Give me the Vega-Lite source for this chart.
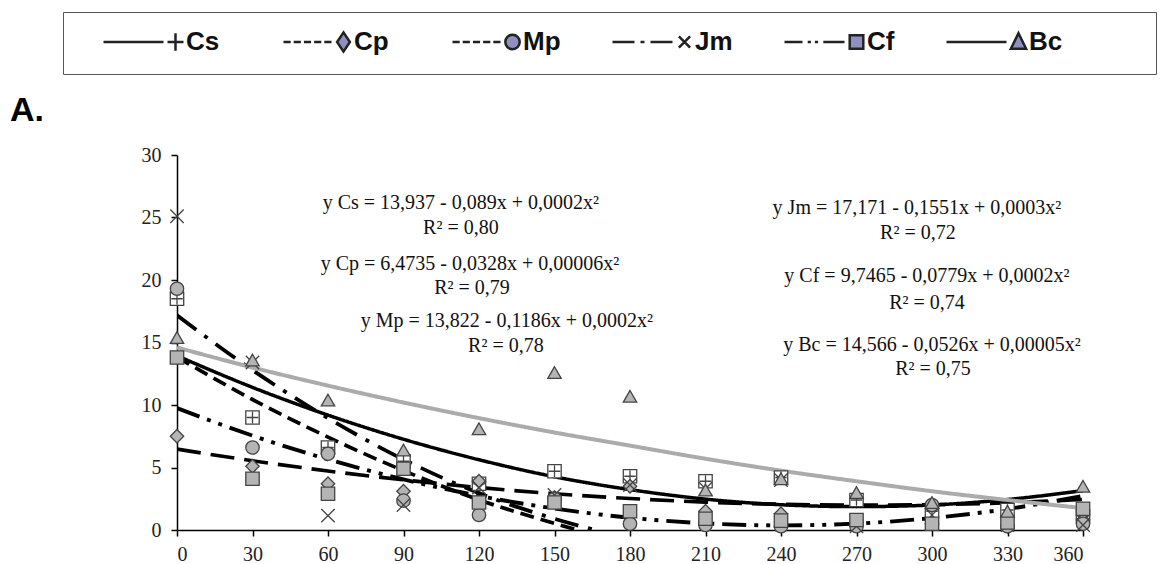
{
  "$schema": "https://vega.github.io/schema/vega-lite/v6.json",
  "width": 906,
  "height": 375,
  "autosize": {"type": "none"},
  "padding": {"left": 177, "top": 155, "right": 79, "bottom": 34},
  "background": "white",
  "title": {"text": "A.", "anchor": "start", "frame": "group", "font": "Liberation Sans", "fontSize": 34, "fontWeight": "bold", "color": "#000", "dx": -167, "dy": 146, "offset": 30},
  "config": {
    "view": {"stroke": null},
    "axis": {"grid": false, "domainColor": "#000", "domainWidth": 1.5, "tickColor": "#000", "tickWidth": 1.5, "tickSize": 6, "labelFont": "Liberation Serif", "labelFontSize": 20, "labelColor": "#222", "title": null}
  },
  "datasets": {
    "curves": [
      {"series": "Cs", "x": 0, "y": 13.94}, {"series": "Cs", "x": 30, "y": 11.41}, {"series": "Cs", "x": 60, "y": 9.19}, {"series": "Cs", "x": 90, "y": 7.26}, {"series": "Cs", "x": 120, "y": 5.62}, {"series": "Cs", "x": 150, "y": 4.26}, {"series": "Cs", "x": 180, "y": 3.23}, {"series": "Cs", "x": 210, "y": 2.47}, {"series": "Cs", "x": 240, "y": 2.02}, {"series": "Cs", "x": 270, "y": 1.87}, {"series": "Cs", "x": 300, "y": 2.0}, {"series": "Cs", "x": 330, "y": 2.44}, {"series": "Cs", "x": 360, "y": 3.15},
      {"series": "Cp", "x": 0, "y": 6.47}, {"series": "Cp", "x": 30, "y": 5.54}, {"series": "Cp", "x": 60, "y": 4.72}, {"series": "Cp", "x": 90, "y": 4.01}, {"series": "Cp", "x": 120, "y": 3.4}, {"series": "Cp", "x": 150, "y": 2.9}, {"series": "Cp", "x": 180, "y": 2.52}, {"series": "Cp", "x": 210, "y": 2.23}, {"series": "Cp", "x": 240, "y": 2.06}, {"series": "Cp", "x": 270, "y": 2.0}, {"series": "Cp", "x": 300, "y": 2.03}, {"series": "Cp", "x": 330, "y": 2.18}, {"series": "Cp", "x": 360, "y": 2.44},
      {"series": "Mp", "x": 0, "y": 13.82}, {"series": "Mp", "x": 30, "y": 10.44}, {"series": "Mp", "x": 60, "y": 7.43}, {"series": "Mp", "x": 90, "y": 4.75}, {"series": "Mp", "x": 120, "y": 2.41}, {"series": "Mp", "x": 150, "y": 0.53}, {"series": "Mp", "x": 159, "y": 0},
      {"series": "Jm", "x": 0, "y": 17.17}, {"series": "Jm", "x": 30, "y": 12.79}, {"series": "Jm", "x": 60, "y": 8.95}, {"series": "Jm", "x": 90, "y": 5.64}, {"series": "Jm", "x": 120, "y": 2.95}, {"series": "Jm", "x": 150, "y": 0.9}, {"series": "Jm", "x": 166, "y": 0},
      {"series": "Cf", "x": 0, "y": 9.75}, {"series": "Cf", "x": 30, "y": 7.55}, {"series": "Cf", "x": 60, "y": 5.65}, {"series": "Cf", "x": 90, "y": 4.05}, {"series": "Cf", "x": 120, "y": 2.73}, {"series": "Cf", "x": 150, "y": 1.72}, {"series": "Cf", "x": 180, "y": 0.98}, {"series": "Cf", "x": 210, "y": 0.53}, {"series": "Cf", "x": 240, "y": 0.37}, {"series": "Cf", "x": 270, "y": 0.51}, {"series": "Cf", "x": 300, "y": 0.96}, {"series": "Cf", "x": 330, "y": 1.68}, {"series": "Cf", "x": 360, "y": 2.73},
      {"series": "Bc", "x": 0, "y": 14.6}, {"series": "Bc", "x": 30, "y": 13.0}, {"series": "Bc", "x": 60, "y": 11.55}, {"series": "Bc", "x": 90, "y": 10.2}, {"series": "Bc", "x": 120, "y": 8.95}, {"series": "Bc", "x": 150, "y": 7.8}, {"series": "Bc", "x": 180, "y": 6.75}, {"series": "Bc", "x": 210, "y": 5.7}, {"series": "Bc", "x": 240, "y": 4.75}, {"series": "Bc", "x": 270, "y": 3.9}, {"series": "Bc", "x": 300, "y": 3.1}, {"series": "Bc", "x": 330, "y": 2.4}, {"series": "Bc", "x": 360, "y": 1.75}
    ],
    "points": [
      {"series": "Cs", "x": 0, "y": 18.5}, {"series": "Cs", "x": 30, "y": 9.0}, {"series": "Cs", "x": 60, "y": 6.6}, {"series": "Cs", "x": 90, "y": 5.5}, {"series": "Cs", "x": 120, "y": 3.7}, {"series": "Cs", "x": 150, "y": 4.7}, {"series": "Cs", "x": 180, "y": 4.3}, {"series": "Cs", "x": 210, "y": 3.9}, {"series": "Cs", "x": 240, "y": 4.2}, {"series": "Cs", "x": 270, "y": 2.4}, {"series": "Cs", "x": 300, "y": 1.5}, {"series": "Cs", "x": 330, "y": 1.6}, {"series": "Cs", "x": 360, "y": 1.1},
      {"series": "Cp", "x": 0, "y": 7.5}, {"series": "Cp", "x": 30, "y": 5.1}, {"series": "Cp", "x": 60, "y": 3.7}, {"series": "Cp", "x": 90, "y": 3.1}, {"series": "Cp", "x": 120, "y": 3.9}, {"series": "Cp", "x": 150, "y": 2.6}, {"series": "Cp", "x": 180, "y": 3.5}, {"series": "Cp", "x": 210, "y": 1.5}, {"series": "Cp", "x": 240, "y": 1.3}, {"series": "Cp", "x": 270, "y": 0.6}, {"series": "Cp", "x": 300, "y": 0.5}, {"series": "Cp", "x": 330, "y": 0.3}, {"series": "Cp", "x": 360, "y": 0.8},
      {"series": "Mp", "x": 0, "y": 19.3}, {"series": "Mp", "x": 30, "y": 6.6}, {"series": "Mp", "x": 60, "y": 6.1}, {"series": "Mp", "x": 90, "y": 2.35}, {"series": "Mp", "x": 120, "y": 1.2}, {"series": "Mp", "x": 150, "y": 2.5}, {"series": "Mp", "x": 180, "y": 0.5}, {"series": "Mp", "x": 210, "y": 0.4}, {"series": "Mp", "x": 240, "y": 0.3}, {"series": "Mp", "x": 270, "y": 0.3}, {"series": "Mp", "x": 300, "y": 2.0}, {"series": "Mp", "x": 330, "y": 0.3}, {"series": "Mp", "x": 360, "y": 0.5},
      {"series": "Jm", "x": 0, "y": 25.1}, {"series": "Jm", "x": 30, "y": 13.4}, {"series": "Jm", "x": 60, "y": 1.15}, {"series": "Jm", "x": 90, "y": 2.0}, {"series": "Jm", "x": 120, "y": 3.4}, {"series": "Jm", "x": 150, "y": 2.8}, {"series": "Jm", "x": 180, "y": 3.6}, {"series": "Jm", "x": 210, "y": 3.3}, {"series": "Jm", "x": 240, "y": 4.0}, {"series": "Jm", "x": 270, "y": 0.3}, {"series": "Jm", "x": 300, "y": 1.2}, {"series": "Jm", "x": 330, "y": 0.4}, {"series": "Jm", "x": 360, "y": 0.4},
      {"series": "Cf", "x": 0, "y": 13.8}, {"series": "Cf", "x": 30, "y": 4.1}, {"series": "Cf", "x": 60, "y": 2.9}, {"series": "Cf", "x": 90, "y": 4.9}, {"series": "Cf", "x": 120, "y": 2.2}, {"series": "Cf", "x": 150, "y": 2.2}, {"series": "Cf", "x": 180, "y": 1.5}, {"series": "Cf", "x": 210, "y": 0.9}, {"series": "Cf", "x": 240, "y": 0.75}, {"series": "Cf", "x": 270, "y": 0.8}, {"series": "Cf", "x": 300, "y": 0.5}, {"series": "Cf", "x": 330, "y": 0.6}, {"series": "Cf", "x": 360, "y": 1.7},
      {"series": "Bc", "x": 0, "y": 15.4}, {"series": "Bc", "x": 30, "y": 13.6}, {"series": "Bc", "x": 60, "y": 10.4}, {"series": "Bc", "x": 90, "y": 6.4}, {"series": "Bc", "x": 120, "y": 8.1}, {"series": "Bc", "x": 150, "y": 12.6}, {"series": "Bc", "x": 180, "y": 10.7}, {"series": "Bc", "x": 210, "y": 3.2}, {"series": "Bc", "x": 240, "y": 4.1}, {"series": "Bc", "x": 270, "y": 3.0}, {"series": "Bc", "x": 300, "y": 2.2}, {"series": "Bc", "x": 330, "y": 1.5}, {"series": "Bc", "x": 360, "y": 3.5}
    ],
    "labels": [
      {"x": 112.8, "y": 26.2, "text": "y Cs = 13,937 - 0,089x + 0,0002x²"},
      {"x": 112.8, "y": 24.2, "text": "R² = 0,80"},
      {"x": 116.4, "y": 21.3, "text": "y Cp = 6,4735 - 0,0328x + 0,00006x²"},
      {"x": 117.2, "y": 19.4, "text": "R² = 0,79"},
      {"x": 131.1, "y": 16.7, "text": "y Mp = 13,822 - 0,1186x + 0,0002x²"},
      {"x": 130.7, "y": 14.7, "text": "R² = 0,78"},
      {"x": 294.0, "y": 25.8, "text": "y Jm = 17,171 - 0,1551x + 0,0003x²"},
      {"x": 294.4, "y": 23.8, "text": "R² = 0,72"},
      {"x": 298.0, "y": 20.3, "text": "y Cf = 9,7465 - 0,0779x + 0,0002x²"},
      {"x": 298.0, "y": 18.2, "text": "R² = 0,74"},
      {"x": 300.0, "y": 14.8, "text": "y Bc = 14,566  - 0,0526x + 0,00005x²"},
      {"x": 300.4, "y": 12.9, "text": "R² = 0,75"}
    ]
  },
  "layer": [
    {
      "data": {"name": "curves"},
      "mark": {"type": "line", "interpolate": "monotone", "clip": true},
      "encoding": {
        "x": {"field": "x", "type": "quantitative", "scale": {"domain": [0, 360], "nice": false}, "axis": {"values": [0, 30, 60, 90, 120, 150, 180, 210, 240, 270, 300, 330, 360], "labelPadding": 8}},
        "y": {"field": "y", "type": "quantitative", "scale": {"domain": [0, 30], "nice": false}, "axis": {"values": [0, 5, 10, 15, 20, 25, 30], "labelPadding": 10}},
        "detail": {"field": "series"},
        "color": {"field": "series", "type": "nominal", "scale": {"domain": ["Cs", "Cp", "Mp", "Jm", "Cf", "Bc"], "range": ["#000", "#000", "#000", "#000", "#000", "#ababab"]}, "legend": null},
        "strokeDash": {"field": "series", "type": "nominal", "scale": {"domain": ["Cs", "Cp", "Mp", "Jm", "Cf", "Bc"], "range": [[1, 0], [24, 10], [14, 7], [24, 10, 4, 10], [24, 8, 4, 8, 4, 8], [1, 0]]}, "legend": null},
        "strokeWidth": {"field": "series", "type": "nominal", "scale": {"domain": ["Cs", "Cp", "Mp", "Jm", "Cf", "Bc"], "range": [3.5, 4, 4, 4, 4, 6]}, "legend": null}
      }
    },
    {
      "data": {"name": "points"},
      "mark": {"type": "point", "filled": true, "stroke": "#444", "strokeWidth": 1.3, "opacity": 1, "size": 180, "clip": false},
      "encoding": {
        "x": {"field": "x", "type": "quantitative"},
        "y": {"field": "y", "type": "quantitative"},
        "shape": {"field": "series", "type": "nominal", "scale": {"domain": ["Cs", "Cp", "Mp", "Jm", "Cf", "Bc"], "range": ["M-1,-1H1V1H-1ZM0,-0.85V0.85M-0.85,0H0.85", "diamond", "circle", "M-1,-1L1,1M-1,1L1,-1", "square", "triangle-up"]}, "legend": null},
        "fill": {"field": "series", "type": "nominal", "scale": {"domain": ["Cs", "Cp", "Mp", "Jm", "Cf", "Bc"], "range": ["#ffffff", "#b4b4b4", "#b4b4b4", "#b4b4b4", "#b4b4b4", "#b4b4b4"]}, "legend": null}
      }
    },
    {
      "data": {"name": "labels"},
      "mark": {"type": "text", "font": "Liberation Serif", "fontSize": 20, "color": "#111", "align": "center", "baseline": "middle"},
      "encoding": {
        "x": {"field": "x", "type": "quantitative"},
        "y": {"field": "y", "type": "quantitative"},
        "text": {"field": "text"}
      }
    },
    {
      "data": {"name": "points"},
      "mark": {"type": "point", "filled": true, "opacity": 0, "strokeWidth": 2.5},
      "encoding": {
        "x": {"field": "x", "type": "quantitative"},
        "y": {"field": "y", "type": "quantitative"},
        "fill": {"field": "series", "type": "nominal", "scale": {"domain": ["Cs", "Cp", "Mp", "Jm", "Cf", "Bc"], "range": ["#8f8fc0", "#8f8fc0", "#8f8fc0", "#8f8fc0", "#8f8fc0", "#8f8fc0"]}},
        "stroke": {"field": "series", "type": "nominal", "scale": {"domain": ["Cs", "Cp", "Mp", "Jm", "Cf", "Bc"], "range": ["#222", "#222", "#222", "#222", "#222", "#222"]}},
        "shape": {
          "field": "series", "type": "nominal",
          "scale": {"domain": ["Cs", "Cp", "Mp", "Jm", "Cf", "Bc"], "range": [
            "M-1,0H0.5M0.8,-0.22V0.22M0.6,0H1",
            "M-1,0M-0.7,0H-0.52M-0.445,0H-0.265M-0.19,0H-0.01M0.065,0H0.245M0.32,0H0.5M0.8,-0.24L0.96,0L0.8,0.24L0.64,0Z",
            "M-1,0M-0.7,0H-0.52M-0.445,0H-0.265M-0.19,0H-0.01M0.065,0H0.245M0.32,0H0.5M0.98,0A0.18,0.18,0,1,1,0.62,0A0.18,0.18,0,1,1,0.98,0Z",
            "M-1,0H-0.45M-0.3,0H-0.2M-0.05,0H0.5M0.66,-0.14L0.94,0.14M0.66,0.14L0.94,-0.14",
            "M-1,0H-0.55M-0.42,0H-0.34M-0.24,0H-0.16M-0.03,0H0.5M0.63,-0.17H0.97V0.17H0.63Z",
            "M-1,0H0.5M0.8,-0.22L0.99,0.17H0.61Z"
          ]},
          "legend": {
            "orient": "none", "legendX": -114, "legendY": -143, "direction": "horizontal", "columns": 6,
            "title": "\u00a0", "titleOrient": "right", "titlePadding": 76, "titleFontSize": 26,
            "padding": 18, "strokeColor": "#555", "clipHeight": 24, "symbolSize": 6400, "symbolOffset": 21, "labelOffset": 1, "columnPadding": 29,
            "labelFont": "Liberation Sans", "labelFontSize": 26, "labelFontWeight": "bold", "labelColor": "#111",
            "symbolOpacity": 1, "symbolStrokeWidth": 2.5,
            "encode": {"symbols": {"update": {"opacity": {"value": 1}, "fillOpacity": {"value": 1}, "strokeOpacity": {"value": 1}, "strokeWidth": {"value": 2.5}}}}
          }
        }
      }
    }
  ],
  "resolve": {"scale": {"shape": "independent", "fill": "independent", "color": "independent", "stroke": "independent"}}
}
